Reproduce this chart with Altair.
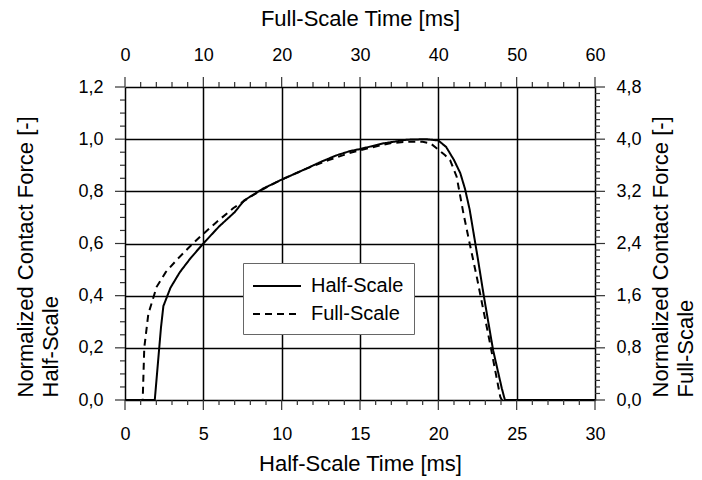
import altair as alt
import pandas as pd

# ---- data (half-scale time axis [ms], normalized force, left axis) ----
half_t = [0, 1.9, 2.1, 2.3, 2.45, 2.9, 3.5, 4.2, 5.0, 6.0, 7.0, 7.6, 8.8, 10.0,
          11.5, 12.5, 13.5, 14.4, 15.0, 16.5, 18.0, 19.2, 20.0, 20.5, 21.0, 21.4,
          21.7, 22.0, 22.5, 22.9, 23.5, 24.05, 24.25, 30]
half_f = [0, 0, 0.14, 0.28, 0.36, 0.43, 0.49, 0.545, 0.60, 0.665, 0.72, 0.765,
          0.81, 0.845, 0.885, 0.913, 0.938, 0.955, 0.962, 0.984, 0.998, 1.0,
          0.995, 0.97, 0.92, 0.87, 0.81, 0.73, 0.55, 0.40, 0.19, 0.045, 0, 0]

full_t = [0, 1.13, 1.23, 1.49, 2.02, 2.6, 3.3, 4.0, 4.79, 5.8, 6.9, 7.9, 8.8,
          10.0, 11.5, 13.0, 14.5, 16.0, 17.0, 18.0, 19.0, 19.5, 20.0, 20.4,
          20.75, 21.17, 21.6, 22.0, 22.45, 23.3, 23.95, 24.05, 30]
full_f = [0, 0, 0.20, 0.33, 0.434, 0.49, 0.537, 0.58, 0.626, 0.68, 0.735, 0.775,
          0.808, 0.845, 0.885, 0.92, 0.95, 0.972, 0.985, 0.99, 0.99, 0.984, 0.96,
          0.94, 0.92, 0.856, 0.716, 0.60, 0.473, 0.217, 0.013, 0, 0]

series_names = ["Half-Scale", "Full-Scale"]

# axis tick values
bottom_major = list(range(0, 31, 5))
bottom_minor = [v for v in range(0, 31) if v % 5 != 0]
left_major = [round(i * 0.2, 2) for i in range(7)]
left_minor = [round(i * 0.05, 2) for i in range(25) if i % 4 != 0]
top_major = list(range(0, 61, 10))
top_minor = [v for v in range(0, 61, 2) if v % 10 != 0]
right_major = [round(i * 0.8, 2) for i in range(7)]
right_minor = [round(i * 0.1, 2) for i in range(49) if i % 8 != 0]

df = pd.concat([
    pd.DataFrame({"t": half_t, "f": half_f, "series": series_names[0]}),
    pd.DataFrame({"t": full_t, "f": full_f, "series": series_names[1]}),
], ignore_index=True)

W, H = 470, 313
FONT = "Liberation Sans"
COMMA = "replace(format(datum.value, '.1f'), '.', ',')"
TICK_COLOR = "#333"

common = dict(domain=False, ticks=False, labelFontSize=18,
              labelFont=FONT, labelColor="black", titleFont=FONT,
              titleFontSize=22, titleFontWeight="normal", titleColor="black",
              labelOverlap=False, labelFlush=False)

x_axis = alt.Axis(orient="bottom", values=bottom_major,
                  grid=True, gridColor="black", gridWidth=1.5, labelPadding=25,
                  title="Half-Scale Time [ms]", titleY=63,
                  titleBaseline="middle", **common)
y_axis = alt.Axis(orient="left", values=left_major, labelExpr=COMMA,
                  grid=True, gridColor="black", gridWidth=1.5, labelPadding=22,
                  title=["Normalized Contact Force [-]", "Half-Scale"],
                  titleAngle=270, titleAlign="left", titleBaseline="middle",
                  titleLineHeight=25, titleX=-100, titleY=310, **common)
x2_axis = alt.Axis(orient="top", values=top_major, grid=False,
                   labelPadding=23, title="Full-Scale Time [ms]", titleY=-69,
                   titleBaseline="middle", **common)
y2_axis = alt.Axis(orient="right", values=right_major, labelExpr=COMMA,
                   grid=False, labelPadding=21,
                   title=["Normalized Contact Force [-]", "Full-Scale"],
                   titleAngle=270, titleAlign="left", titleBaseline="middle",
                   titleLineHeight=25, titleX=65, titleY=310, **common)

legend = alt.Legend(title=None, orient="none", legendX=118, legendY=176,
                    direction="vertical", fillColor="white", strokeColor="#666",
                    padding=10, symbolType="M-2,0H2", symbolSize=576,
                    symbolOffset=11, rowPadding=5,
                    symbolStrokeWidth=2, symbolStrokeColor="black",
                    labelFontSize=20, labelFont=FONT, labelColor="black",
                    labelOffset=21)

sx = alt.Scale(domain=[0, 30], nice=False, zero=False)
sy = alt.Scale(domain=[0, 1.2], nice=False)
sx2 = alt.Scale(domain=[0, 60], nice=False)
sy2 = alt.Scale(domain=[0, 4.8], nice=False)

base = alt.Chart(df)

lines = base.mark_line(strokeWidth=2, color="black").encode(
    x=alt.X("t:Q", scale=sx, axis=x_axis),
    y=alt.Y("f:Q", scale=sy, axis=y_axis),
    strokeDash=alt.StrokeDash("series:N",
                              scale=alt.Scale(domain=series_names, range=[[1, 0], [7, 5]]),
                              legend=legend),
)

scaled = base.transform_calculate(ft="datum.t * 2", fy="datum.f * 4")

sec_major = scaled.mark_point(opacity=0).encode(
    x=alt.X("ft:Q", scale=sx2, axis=x2_axis),
    y=alt.Y("fy:Q", scale=sy2, axis=y2_axis),
)


def xticks(values, scale, center, length):
    return alt.Chart(pd.DataFrame({"v": values})).mark_tick(
        color=TICK_COLOR, thickness=1.2, size=length, orient="vertical",
        opacity=1, clip=False
    ).encode(
        x=alt.X("v:Q", scale=scale, axis=None),
        y=alt.value(center),
    )


def yticks(values, scale, center, length):
    return alt.Chart(pd.DataFrame({"v": values})).mark_tick(
        color=TICK_COLOR, thickness=1.2, size=length, orient="horizontal",
        opacity=1, clip=False
    ).encode(
        y=alt.Y("v:Q", scale=scale, axis=None),
        x=alt.value(center),
    )


tick_layers = [
    xticks(bottom_major, sx, H + 5, 10),
    xticks(bottom_minor, sx, H + 2.5, 5),
    xticks(top_major, sx2, -5, 10),
    xticks(top_minor, sx2, -2.5, 5),
    yticks(left_major, sy, -5, 10),
    yticks(left_minor, sy, -2.5, 5),
    yticks(right_major, sy2, W + 5, 10),
    yticks(right_minor, sy2, W + 2.5, 5),
]

chart = alt.layer(lines, sec_major, *tick_layers).resolve_scale(
    x="independent", y="independent"
).properties(
    width=W, height=H,
    padding={"left": 125, "top": 87, "right": 107, "bottom": 80},
    autosize="none",
).configure_view(stroke="black", strokeWidth=2).configure(background="white")

chart.save("out.html", embed_options={"renderer": "svg", "actions": False})
